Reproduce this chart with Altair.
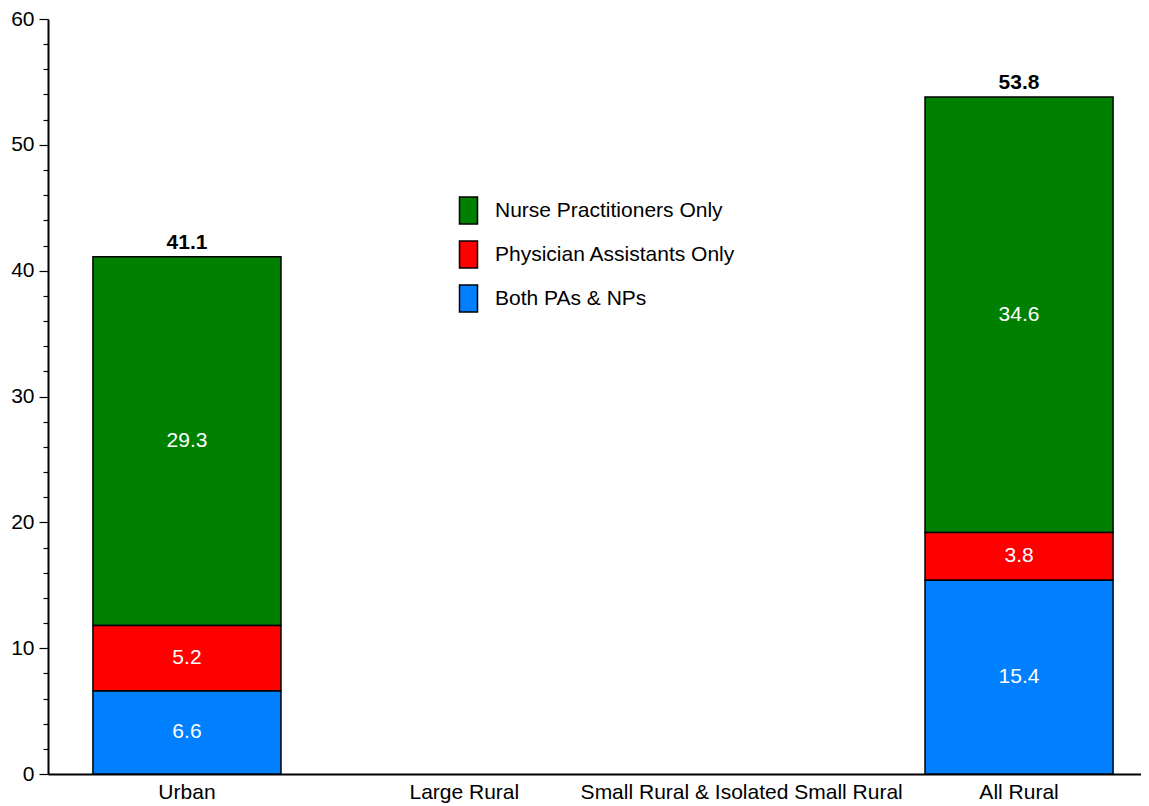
import altair as alt
import pandas as pd

categories = ["Urban", "Large Rural", "Small Rural & Isolated Small Rural", "All Rural"]
series = ["Nurse Practitioners Only", "Physician Assistants Only", "Both PAs & NPs"]
colors = ["#008000", "#FF0000", "#0080FF"]
stack_order = [2, 1, 0]

bar_categories = ["Urban", "All Rural"]
np_values = [29.3, 34.6]
pa_values = [5.2, 3.8]
both_values = [6.6, 15.4]
totals = [41.1, 53.8]

major_ticks = [0, 10, 20, 30, 40, 50, 60]
minor_ticks = [2, 4, 6, 8, 12, 14, 16, 18, 22, 24, 26, 28, 32, 34, 36, 38,
               42, 44, 46, 48, 52, 54, 56, 58]

rows = []
for i, c in enumerate(bar_categories):
    for s, vals, o in zip(series, [np_values, pa_values, both_values], stack_order):
        rows.append({"category": c, "series": s, "value": vals[i], "order": o})
df = pd.DataFrame(rows)
tot_df = pd.DataFrame({"category": bar_categories, "total": totals})

FONT = "Liberation Sans"
FS = 21
W = 1093
H = 755
xscale = alt.Scale(domain=categories, paddingInner=0.322, paddingOuter=0.162, range=[0, 1110])
yscale = alt.Scale(domain=[0, 60], nice=False)

x_enc = alt.X("category:N", scale=xscale, title=None, sort=categories,
              axis=alt.Axis(ticks=False, labelAngle=0, labelFontSize=FS,
                            labelFont=FONT, labelColor="black", domainColor="black",
                            domainWidth=2, labelPadding=7, labelLimit=500))

bars = alt.Chart(df).mark_bar(stroke="black", strokeWidth=1.5, opacity=1).encode(
    x=x_enc,
    y=alt.Y("value:Q", stack="zero", scale=yscale, title=None,
            axis=alt.Axis(values=major_ticks, grid=False, orient="left",
                          tickSize=9, labelFontSize=FS, labelFont=FONT, labelColor="black",
                          domainColor="black", domainWidth=2, tickColor="black",
                          tickWidth=1.2, labelPadding=5, labelOverlap=False,
                          labelFlush=False)),
    color=alt.Color("series:N",
                    scale=alt.Scale(domain=series, range=colors),
                    legend=alt.Legend(title=None, orient="none", legendX=406, legendY=177,
                                      symbolType="M-0.667,-1H0.667V1H-0.667Z",
                                      symbolSize=729, symbolStrokeColor="black",
                                      symbolStrokeWidth=1.5, symbolOpacity=1,
                                      labelFontSize=FS, labelFont=FONT, labelColor="black",
                                      labelOffset=12, rowPadding=11, labelLimit=400)),
    order=alt.Order("order:Q", sort="ascending"),
)

seg_labels = alt.Chart(df).transform_stack(
    stack="value", groupby=["category"], as_=["v0", "v1"],
    sort=[alt.SortField("order", order="ascending")]
).transform_calculate(mid="(datum.v0 + datum.v1) / 2").mark_text(
    color="white", fontSize=FS, font=FONT, baseline="middle"
).encode(
    x=alt.X("category:N", scale=xscale, sort=categories),
    y=alt.Y("mid:Q", scale=yscale,
            axis=alt.Axis(values=minor_ticks, grid=False, orient="left", labels=False,
                          domain=False, tickSize=5, tickColor="black", tickWidth=1.2,
                          title=None)),
    text=alt.Text("value:Q", format=".1f"),
)

tot_labels = alt.Chart(tot_df).mark_text(
    color="black", fontSize=FS, font=FONT, fontWeight="bold", baseline="alphabetic", dy=-8
).encode(
    x=alt.X("category:N", scale=xscale, sort=categories),
    y=alt.Y("total:Q", scale=yscale, axis=None),
    text=alt.Text("total:Q", format=".1f"),
)

chart = alt.layer(bars, seg_labels, tot_labels).resolve_axis(y="independent").properties(
    width=W, height=H,
    autosize=alt.AutoSizeParams(type="none"),
    padding={"left": 40, "top": 11, "right": 0, "bottom": 30},
).configure(background="white").configure_view(stroke=None)

chart.save("out.html", embed_options={"renderer": "svg", "actions": False})
